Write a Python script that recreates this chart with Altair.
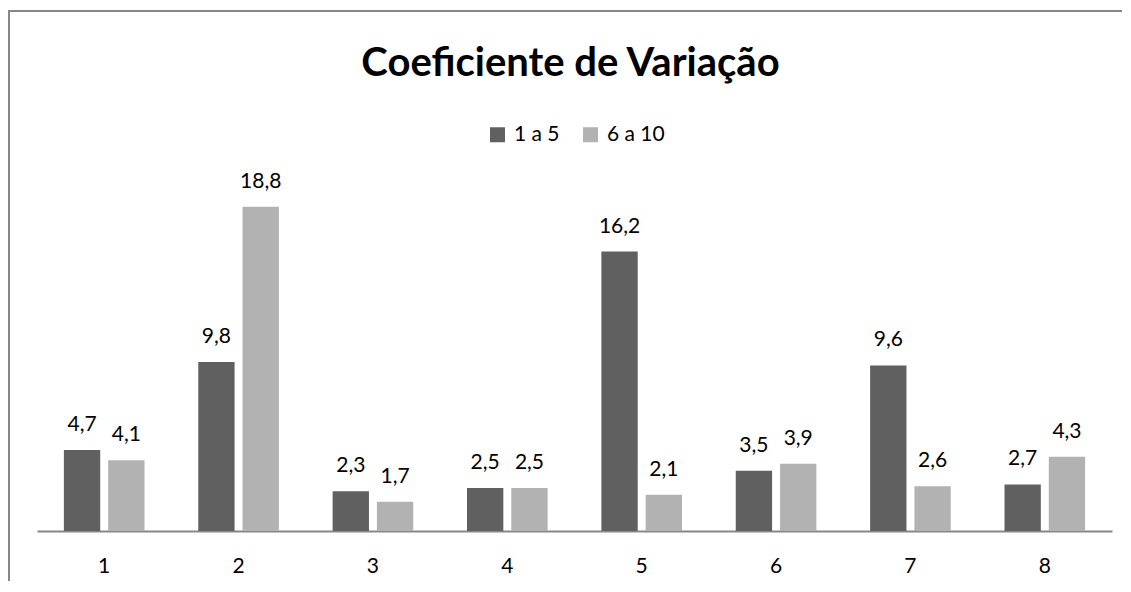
import altair as alt
import pandas as pd

categories = ["1", "2", "3", "4", "5", "6", "7", "8"]
series_names = ["1 a 5", "6 a 10"]
values_1a5 = [4.7, 9.8, 2.3, 2.5, 16.2, 3.5, 9.6, 2.7]
values_6a10 = [4.1, 18.8, 1.7, 2.5, 2.1, 3.9, 2.6, 4.3]
colors = ["#606060", "#B2B2B2"]

rows = []
for cat, a, b in zip(categories, values_1a5, values_6a10):
    for name, v in ((series_names[0], a), (series_names[1], b)):
        rows.append({"cat": cat, "serie": name, "val": v,
                     "label": f"{v:.1f}".replace(".", ",")})
df = pd.DataFrame(rows)

FONT = "Lato"

x_enc = alt.X("cat:N", sort=categories,
              scale=alt.Scale(paddingInner=0.4, paddingOuter=0.2),
              axis=alt.Axis(title=None, labelAngle=0, ticks=False, tickSize=0,
                            domainColor="#878787", domainWidth=2,
                            labelFontSize=21, labelFont=FONT, labelColor="#000000",
                            labelPadding=24, grid=False))
xo_enc = alt.XOffset("serie:N", sort=series_names,
                     scale=alt.Scale(paddingInner=0.18, paddingOuter=0))
y_enc = alt.Y("val:Q", scale=alt.Scale(domain=[0, 20]), axis=None)

bars = alt.Chart(df).mark_bar().encode(
    x=x_enc, xOffset=xo_enc, y=y_enc,
    color=alt.Color("serie:N", sort=series_names,
                    scale=alt.Scale(domain=series_names, range=colors),
                    legend=alt.Legend(orient="none", legendX=450, legendY=-62,
                                      direction="horizontal", title=None,
                                      symbolType="square", symbolSize=225,
                                      symbolStrokeWidth=0,
                                      labelFontSize=21, labelFont=FONT,
                                      labelColor="#000000", labelOffset=6,
                                      columnPadding=20))
)

texts = alt.Chart(df).mark_text(baseline="alphabetic", dy=-19, fontSize=21,
                                font=FONT, color="#000000").encode(
    x=x_enc, xOffset=xo_enc, y=y_enc, text="label:N"
)

frame_df = pd.DataFrame({"k": [0]})
border_top = alt.Chart(frame_df).mark_rule(stroke="#878787", strokeWidth=2).encode(
    x=alt.value(-29), x2=alt.value(1085), y=alt.value(-175)
)
border_left = alt.Chart(frame_df).mark_rule(stroke="#878787", strokeWidth=2).encode(
    x=alt.value(-28), y=alt.value(-176), y2=alt.value(395)
)

chart = alt.layer(border_top, border_left, bars, texts).properties(
    width=1075, height=345,
    autosize=alt.AutoSizeParams(type="none"),
    padding={"left": 29, "top": 178, "right": 10, "bottom": 50},
    title=alt.TitleParams("Coeficiente de Variação", fontSize=40, font=FONT,
                          fontWeight="bold", anchor="middle", frame="group",
                          baseline="alphabetic", offset=-107, dx=-4,
                          color="#000000"),
).configure_view(stroke=None)

chart.save("out.html", embed_options={"renderer": "svg", "actions": False})
